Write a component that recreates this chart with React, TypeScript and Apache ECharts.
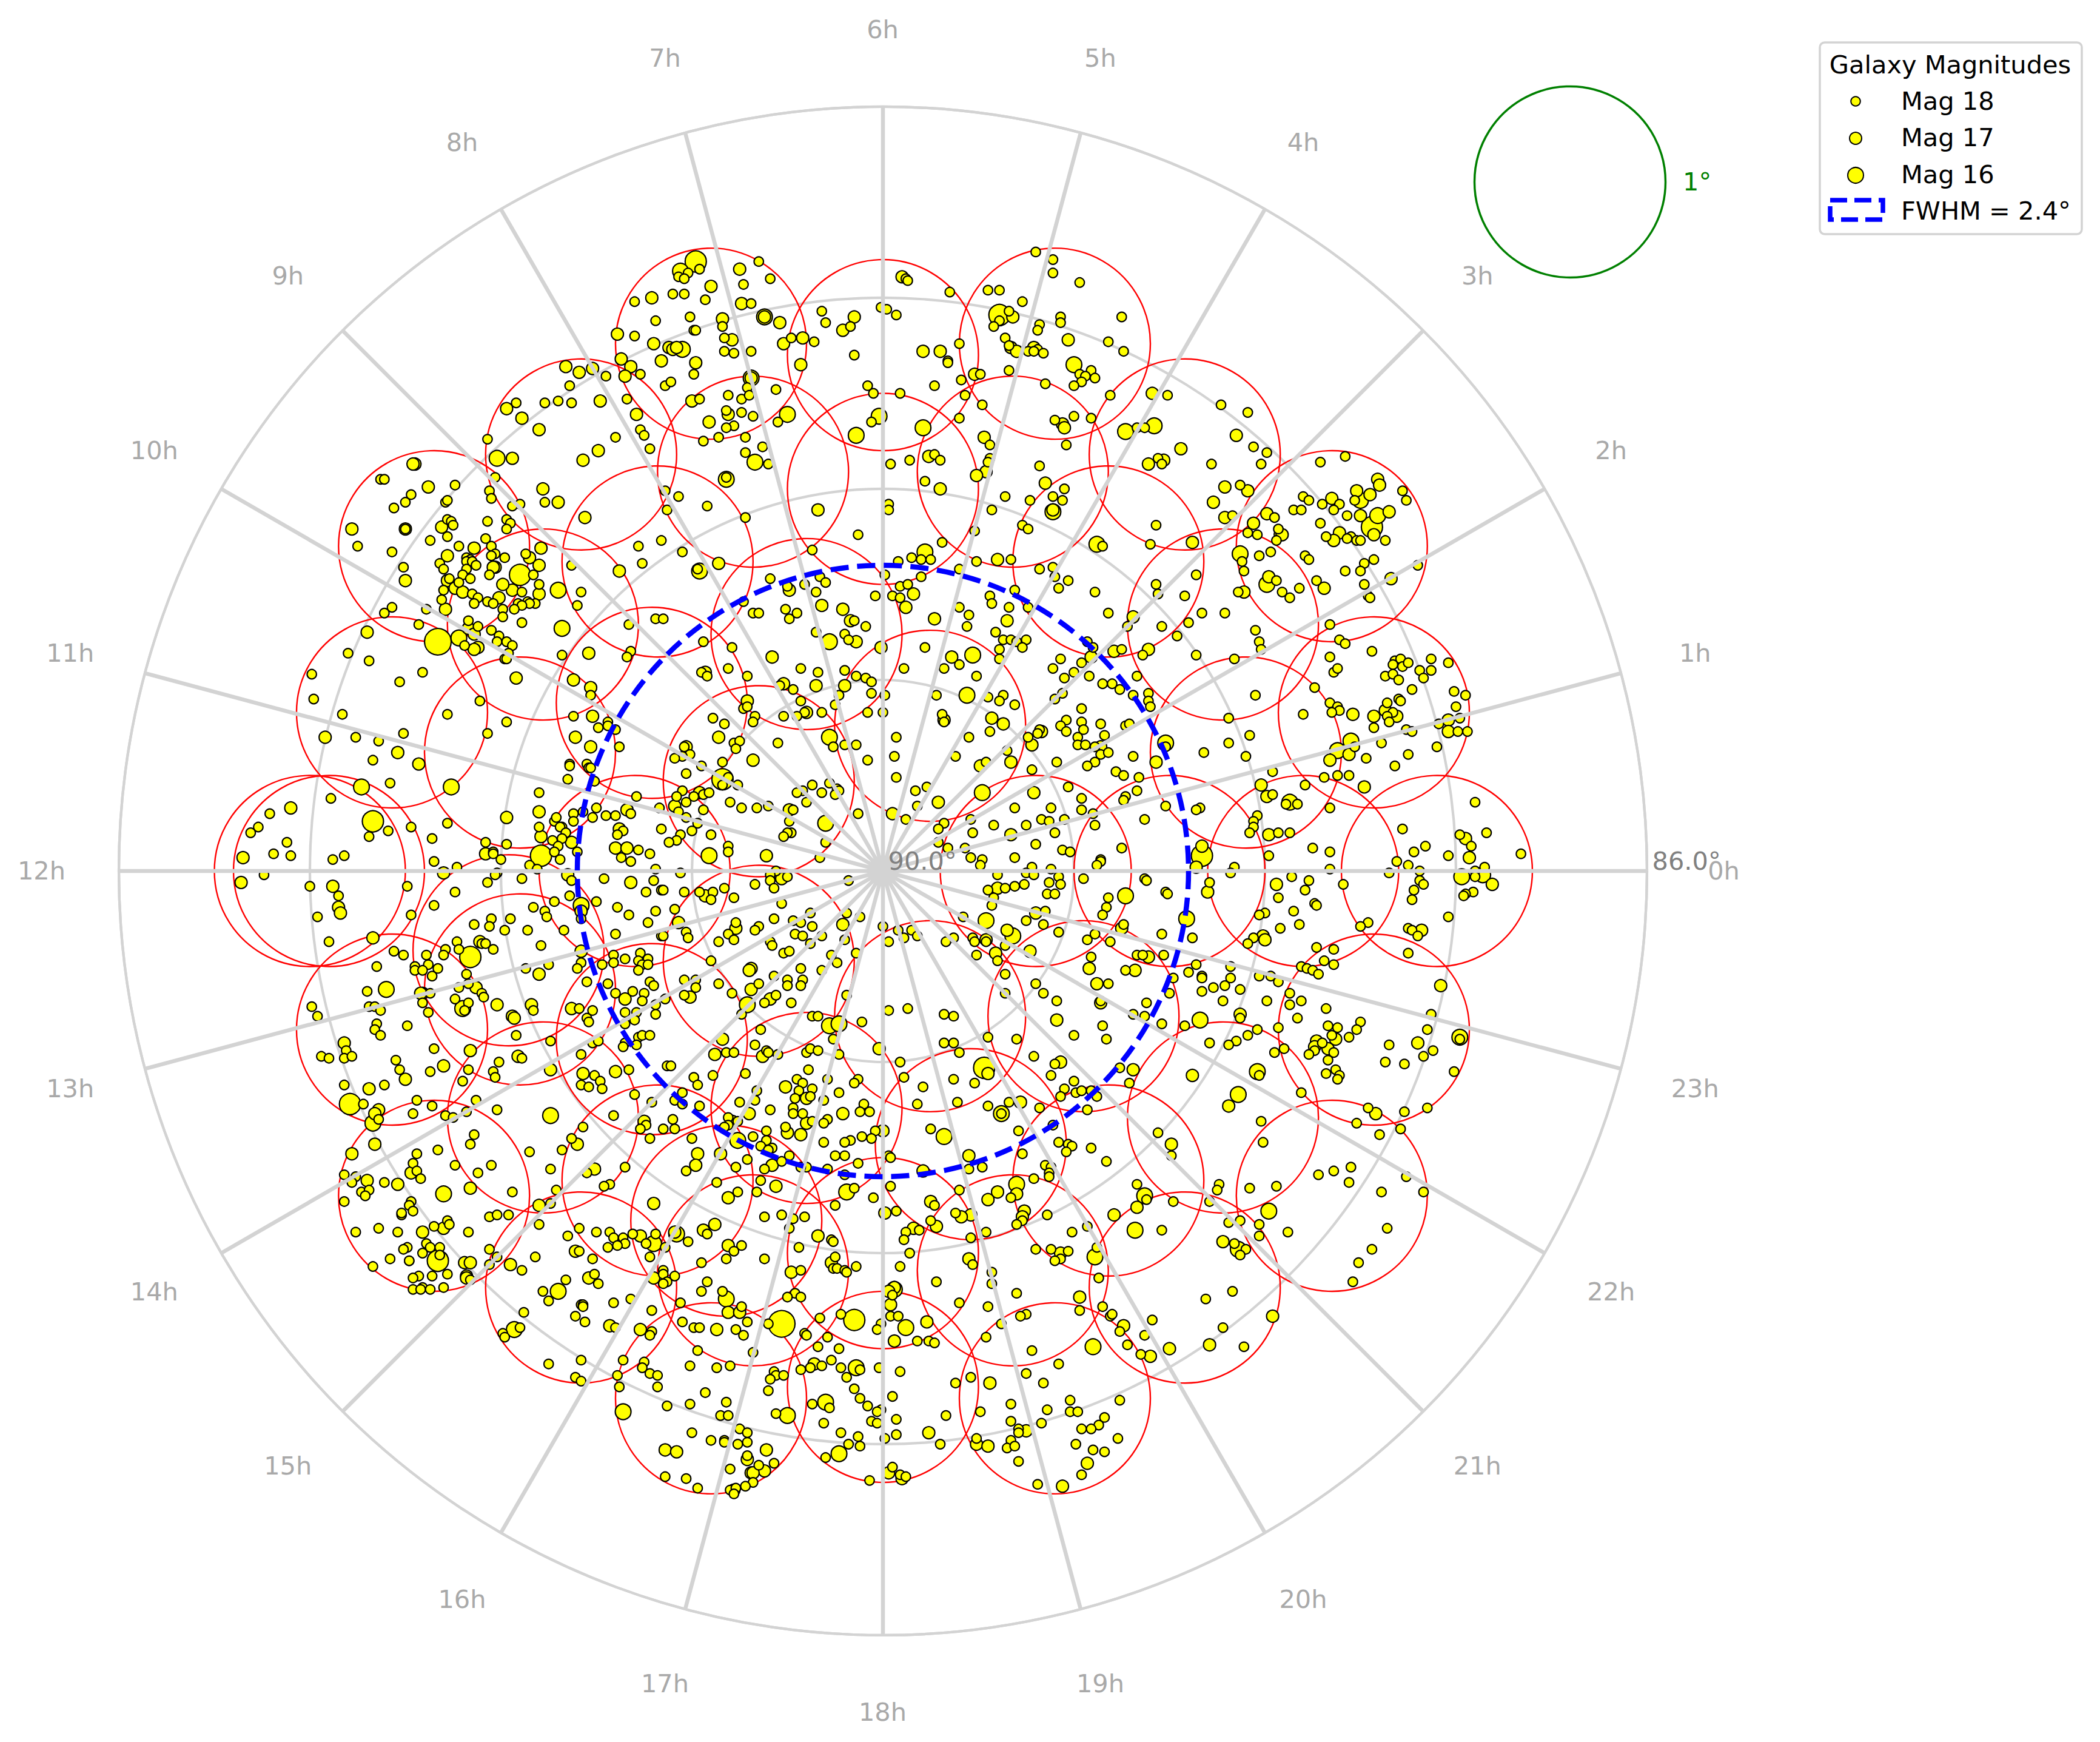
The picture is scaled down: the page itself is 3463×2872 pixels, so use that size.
import React, { useEffect, useRef } from "react";
import * as echarts from "echarts";

const hourLabels = ["0h","1h","2h","3h","4h","5h","6h","7h","8h","9h","10h","11h","12h","13h","14h","15h","16h","17h","18h","19h","20h","21h","22h","23h"];
const legendEntries = ["Mag 18", "Mag 17", "Mag 16"];
const radiusLabels = [90, 86];

// Observation fields: offset from the pole in degrees (east, north)
const fieldsOuter = [[2.90,0],[2.57,.83],[2.35,1.70],[1.58,2.18],[.90,2.76],[0,2.70],[-.90,2.76],[-1.58,2.18],[-2.35,1.70],[-2.57,.83],[-2.90,0],[-3.00,0],[-2.57,-.83],[-2.35,-1.70],[-1.58,-2.18],[-.90,-2.76],[0,-2.70],[.90,-2.76],[1.58,-2.18],[2.35,-1.70],[2.57,-.83]];
const fieldsMiddle = [[2.20,0],[1.78,1.29],[.68,2.09],[-.68,2.09],[-1.78,1.29],[-1.78,-1.29],[-.68,-2.09],[.68,-2.09],[1.78,-1.29],[1.90,.62],[1.18,1.62],[0,2.00],[-1.18,1.62],[-1.90,.62],[-1.90,-.62],[-1.18,-1.62],[0,-2.00],[1.18,-1.62],[-1.96,-.415],[-.82,-1.83]];
const fieldsInner = [[1.50,0],[-1.21,.88],[-1.21,-.88],[.46,-1.43],[-.40,1.24],[-1.30,0],[-.40,-1.24],[1.05,-.76],[.80,0],[.247,.76],[-.65,.47],[-.65,-.47],[.247,-.76]];

// Galaxies: [east offset deg, north offset deg, magnitude]
const galaxiesNW = [
[-1.30,2.98,18],[-1.21,3.00,17],[-1.19,2.88,18],[-1.39,2.81,17],[-1.30,2.80,18],[-1.20,2.76,17],[-1.37,2.68,17],[-1.16,2.67,17],[-1.32,2.64,17],[-1.35,2.59,17],[-1.27,2.60,18],[-1.66,2.64,17],[-1.59,2.61,17],[-1.52,2.63,17],[-1.45,2.59,18],[-1.64,2.54,18],[-1.92,2.45,18],[-1.97,2.42,17],[-1.77,2.45,18],[-1.70,2.46,18],[-1.63,2.45,18],[-1.48,2.46,17],[-1.34,2.47,18],[-1.89,2.37,17],[-1.29,2.39,17],[-1.80,2.31,17],[-1.27,2.31,18],[-1.25,2.28,18],[-1.40,2.27,18],[-2.07,2.26,18],[-1.22,2.21,18],[-1.49,2.20,17],[-1.57,2.15,17],[-2.02,2.16,16],[-1.94,2.16,17],[-2.03,2.06,18],[-1.78,2.00,17],[-1.70,1.93,17],[-1.77,1.93,18],[-2.06,1.99,18],[-2.05,1.95,18],[-1.90,1.92,18],[-1.94,1.91,18],[-1.56,1.85,17],[-1.97,1.84,18],[-1.95,1.82,18],[-1.97,1.79,18],[-2.07,1.83,18],[-2.08,1.74,18],[-1.28,1.70,18],[-1.26,1.61,18],[-1.16,1.73,18],[-1.38,1.57,17],[-1.79,1.69,17],[-1.87,1.66,18],[-1.85,1.64,17],[-1.80,1.60,17],[-1.63,1.60,18],[-1.83,1.55,18],[-1.90,1.55,15],[-1.80,1.50,18],[-1.70,1.47,16],[-1.58,1.46,18],[-1.60,1.39,18],[-1.80,1.45,17],[-1.82,1.40,18],[-1.86,1.41,18],[-1.85,1.40,18],[-1.89,1.46,18],[-1.94,1.47,17],[-1.99,1.50,17],[-1.91,1.40,18],[-1.89,1.39,18],[-1.93,1.37,18],[-1.99,1.37,18],[-1.99,1.33,18],[-1.89,1.30,18],[-1.68,1.27,16],[-1.33,1.29,18],[-1.19,1.32,18],[-1.54,1.14,17],[-1.68,1.13,18],[-1.32,1.15,18],[-1.34,1.12,18],
[-2.45,2.13,17],[-2.46,2.13,17],[-2.63,2.05,18],[-2.61,2.05,18],[-2.24,2.02,18],[-2.38,2.01,17],[-2.47,1.97,18],[-2.50,1.93,18],[-2.56,1.90,18],[-2.29,1.93,18],[-2.28,1.94,18],[-2.28,1.84,18],[-2.26,1.83,18],[-2.25,1.81,18],[-2.31,1.80,17],[-2.50,1.79,17],[-2.50,1.79,18],[-2.78,1.79,17],[-2.75,1.70,18],[-2.57,1.67,18],[-2.28,1.75,18],[-2.37,1.73,18],[-2.22,1.70,18],[-2.14,1.69,17],[-2.05,1.70,18],[-2.03,1.66,18],[-2.05,1.65,18],[-1.98,1.64,18],[-2.28,1.65,17],[-2.18,1.64,18],[-2.16,1.63,18],[-2.18,1.62,18],[-2.15,1.62,18],[-2.13,1.60,18],[-2.03,1.59,17],[-2.04,1.59,17],[-2.32,1.61,18],[-2.30,1.58,18],[-2.51,1.59,18],[-2.50,1.52,17],[-2.18,1.58,18],[-2.20,1.55,18],[-2.16,1.53,18],[-2.06,1.55,18],[-2.28,1.52,17],[-2.27,1.53,18],[-2.22,1.51,18],[-2.30,1.47,18],[-2.24,1.48,17],[-2.20,1.46,17],[-2.15,1.45,18],[-2.31,1.42,18],[-2.12,1.43,18],[-2.14,1.40,18],[-2.07,1.41,18],[-2.01,1.43,17],[-2.04,1.40,18],[-2.29,1.37,17],[-2.39,1.37,18],[-2.57,1.38,18],[-2.61,1.35,18],[-2.17,1.31,18],[-2.17,1.27,17],[-2.12,1.28,18],[-2.14,1.24,17],[-2.43,1.29,18],[-2.70,1.25,17],[-2.33,1.20,14],[-2.22,1.22,16],[-2.19,1.18,18],[-2.05,1.26,18],[-2.01,1.23,18],[-2.02,1.20,18],[-1.97,1.20,18],[-1.94,1.18,18],[-2.12,1.17,17],[-2.14,1.16,17],[-1.96,1.14,18],[-1.98,1.11,18],[-1.97,1.11,18],[-2.80,1.14,18],[-2.69,1.10,18],
];
const galaxiesN = [
[-.98,3.19,15],[-1.06,3.14,16],[-1.07,3.11,18],[-1.02,3.13,18],[-.96,3.15,18],[-1.04,3.10,18],[-.90,3.06,17],[-1.10,3.02,18],[-1.04,3.02,18],[-.93,2.99,18],[-.75,3.15,17],[-.65,3.19,18],[-.59,3.10,18],[-.73,3.07,18],[-.69,2.97,18],[-.74,2.97,17],[-1.01,2.90,18],[-.84,2.89,17],[-.84,2.85,18],[-.62,2.90,16],[-.62,2.90,17],[-.54,2.87,17],[-.99,2.83,18],[-.98,2.83,18],[-.79,2.78,17],[-.83,2.79,18],[-.42,2.79,17],[-.48,2.79,18],[-.52,2.76,17],[-.36,2.77,18],[-.32,2.93,18],[-.30,2.87,18],[-.15,2.90,17],[-.17,2.85,18],[-.21,2.83,17],[-.01,2.95,18],[.02,2.94,18],[.07,2.91,18],[-.15,2.70,18],[.10,3.11,17],[.12,3.10,18],[.13,3.09,18],[.35,3.03,18],[.80,3.24,18],[.89,3.20,18],[.89,3.13,18],[1.03,3.08,18],[.55,3.04,18],[.61,3.04,18],[.73,2.98,18],[.61,2.91,15],[.66,2.93,18],[.68,2.90,17],[.61,2.88,18],[.58,2.85,18],[.93,2.90,18],[.93,2.87,18],[.82,2.86,18],[.81,2.83,18],[.64,2.79,18],[.97,2.78,17],[1.18,2.77,18],[.66,2.75,18],[.67,2.74,17],[.70,2.72,17],[.79,2.74,17],[.81,2.73,18],[.76,2.72,18],[.79,2.72,18],[.84,2.71,18],[.40,2.76,18],[.21,2.72,17],[.30,2.72,17],[.34,2.67,18],[.34,2.66,18],[.66,2.62,18],[1.00,2.65,16],[1.03,2.60,18],[1.09,2.62,18],[1.06,2.59,18],[1.11,2.58,18],[1.04,2.56,18],[1.00,2.54,18],[.85,2.55,18],[.48,2.60,17],[.51,2.60,18],[.41,2.57,18],[.27,2.54,18],[.43,2.49,18],[.52,2.44,18],[.09,2.50,18],[-.08,2.54,18],[-.05,2.50,18],[1.19,2.49,18],[.40,2.37,18],[1.00,2.38,18],[1.09,2.37,18],[.90,2.36,18],[.94,2.34,17],[.95,2.32,17],[-.02,2.38,16],[-.06,2.35,18],[.21,2.32,16],[-.14,2.28,16],[.53,2.27,17],[.56,2.23,18],[.96,2.23,18],[.82,2.12,18],[.04,2.13,18],[.14,2.15,18],[.24,2.17,17],[.27,2.18,18],[.30,2.15,18],[.56,2.16,18],[.55,2.14,18],[.54,2.09,17],[.49,2.07,17],[.22,2.04,18],[.30,2.00,17],[.85,2.03,17],[.95,2.00,18],[.64,1.96,18],[.77,1.94,18],[.89,1.96,18],[.94,1.94,18],[.89,1.89,17],[.89,1.88,16],[.03,1.92,18],[.03,1.89,18],[.57,1.89,18],[.73,1.81,18],[.76,1.79,18],[.48,1.78,18],[-.13,1.76,18],[.31,1.72,18],[.22,1.67,16],[1.12,1.71,16],[1.15,1.70,18],[.15,1.64,18],[.20,1.63,18],[.25,1.63,18],[.08,1.62,18],[.60,1.63,17],[.67,1.63,18],[.49,1.62,18],[.40,1.58,18],[.82,1.58,18],[.89,1.59,18],[.90,1.54,18],[.97,1.52,18],[.92,1.48,18],[.20,1.54,18],[1.11,1.46,18],[.69,1.47,18],[.09,1.49,18],[.13,1.50,18],[.16,1.45,17],[.05,1.44,18],[.09,1.43,18],[.12,1.38,17],[.01,1.55,18],[-.04,1.44,18],[.56,1.44,18],[.57,1.40,18],[.66,1.38,18],[.76,1.38,18],[.40,1.38,18],[.45,1.34,18],[.44,1.28,18],[.27,1.32,17],[.65,1.31,17],[1.18,1.35,18],[.59,1.25,18],[.63,1.21,18],[.67,1.21,18],[.70,1.20,18],[.75,1.21,18],[.73,1.17,18],[.61,1.16,18],[1.07,1.20,18],[1.10,1.17,18],[1.09,1.12,17],[.93,1.11,18],[.22,1.17,18],[.36,1.12,17],[.47,1.13,16],[.61,1.11,18],[-.01,1.17,17],[-1.15,1.32,18],
[-1.12,2.74,17],[-1.10,2.73,17],[-1.08,2.74,17],[-1.05,2.73,16],[-.98,2.66,17],[-.99,2.60,18],[-.83,2.72,18],[-.78,2.71,18],[-.69,2.72,18],[-.43,2.65,17],[-1.14,2.54,18],[-1.11,2.56,18],[-.69,2.58,16],[-.69,2.58,17],[-.71,2.53,18],[-.56,2.52,18],[-.81,2.49,18],[-.74,2.47,18],[-.70,2.49,18],[-.96,2.47,18],[-1.00,2.46,17],[-.82,2.41,18],[-.81,2.39,17],[-.74,2.40,18],[-.68,2.38,18],[-.50,2.39,16],[-.55,2.35,18],[-.91,2.35,17],[-.78,2.33,18],[-.82,2.32,18],[-.86,2.27,18],[-.94,2.25,18],[-.72,2.27,18],[-.63,2.22,18],[-.72,2.19,18],[-.67,2.14,16],[-.60,2.13,18],[-.82,2.05,16],[-.82,2.06,18],[-1.07,1.96,18],[-1.14,1.99,18],[-.92,1.91,18],[-1.13,1.89,18],[-.72,1.85,18],[-.34,1.89,17],[-.37,1.68,18],[-1.05,1.67,18],[-.86,1.61,17],[-.96,1.57,16],[-.97,1.58,18],[-.59,1.53,18],[-.50,1.49,18],[-.49,1.47,17],[-.41,1.50,18],[-.33,1.54,18],[-.30,1.51,18],[-.35,1.46,18],[-.73,1.41,18],[-.68,1.35,18],[-.65,1.35,18],[-.51,1.37,18],[-.45,1.35,18],[-.49,1.32,18],[-.32,1.39,17],[-.21,1.37,17],[-.17,1.31,17],[-.15,1.31,18],[-.09,1.28,18],[-.35,1.25,18],[-.28,1.20,16],[-.20,1.24,18],[-.18,1.21,18],[-.14,1.20,17],[-.94,1.20,18],[-.79,1.17,18],[-.58,1.12,17],
];
const galaxiesNE = [
[1.25,2.90,18],[1.26,2.72,18],[1.41,2.50,17],[1.49,2.49,18],[1.77,2.44,18],[1.91,2.40,18],[1.27,2.30,16],[1.33,2.32,18],[1.37,2.32,18],[1.42,2.33,16],[1.85,2.28,17],[1.56,2.21,17],[1.94,2.22,18],[2.01,2.19,18],[1.44,2.16,18],[1.47,2.15,17],[1.39,2.13,17],[1.46,2.13,18],[1.72,2.13,18],[1.98,2.13,18],[2.29,2.14,18],[2.42,2.17,18],[1.79,2.01,17],[1.87,2.02,18],[1.91,1.99,17],[2.59,2.05,17],[2.60,2.02,17],[2.48,1.99,17],[2.55,1.97,17],[2.50,1.94,16],[2.47,1.94,18],[2.72,1.99,18],[2.74,1.94,18],[2.20,1.96,18],[2.23,1.94,18],[2.35,1.95,17],[2.39,1.92,18],[2.30,1.92,18],[2.36,1.89,18],[1.73,1.93,17],[2.15,1.89,18],[2.19,1.89,18],[2.65,1.88,17],[2.43,1.86,18],[2.50,1.86,17],[2.59,1.86,16],[2.56,1.80,15],[1.83,1.86,18],[1.79,1.85,17],[2.01,1.87,17],[2.05,1.85,18],[1.94,1.82,17],[2.29,1.82,18],[2.07,1.79,18],[2.08,1.76,17],[2.09,1.76,17],[2.39,1.77,17],[2.45,1.75,18],[2.32,1.75,18],[2.36,1.73,17],[2.43,1.74,18],[2.48,1.73,18],[2.50,1.73,18],[2.57,1.76,17],[2.63,1.73,18],[1.91,1.77,18],[1.96,1.76,18],[2.06,1.73,18],[1.62,1.72,17],[1.40,1.71,18],[1.43,1.81,18],[2.03,1.67,18],[1.97,1.65,18],[1.87,1.66,16],[1.88,1.62,18],[1.89,1.57,18],[2.21,1.65,18],[2.23,1.63,18],[2.52,1.61,18],[2.57,1.63,18],[2.50,1.57,18],[2.42,1.57,18],[2.80,1.60,18],[2.66,1.53,17],[1.64,1.55,18],[2.02,1.54,17],[2.06,1.52,18],[2.01,1.50,16],[2.27,1.52,18],[2.31,1.48,17],[2.52,1.50,18],[2.18,1.48,18],[2.09,1.46,18],[2.13,1.43,18],[1.89,1.46,17],[1.86,1.46,18],[1.43,1.50,18],[1.44,1.45,18],[1.58,1.44,18],[2.54,1.44,18],[2.55,1.43,18],[1.67,1.35,18],[1.79,1.35,18],[1.31,1.33,17],[1.28,1.28,18],[1.46,1.28,18],[1.60,1.30,18],[1.54,1.23,18],[1.95,1.26,18],[1.97,1.20,18],[1.98,1.16,18],[2.34,1.29,18],[2.39,1.21,18],[2.42,1.19,18],[2.56,1.15,18],[2.34,1.12,18],[2.68,1.10,18],[2.71,1.11,18],[2.87,1.11,18],[2.96,1.09,18],[1.25,1.16,18],[1.21,1.15,17],[1.39,1.16,17],[1.36,1.13,18],[1.64,1.13,18],[1.84,1.11,18],
];
const galaxiesW = [
[-2.99,1.03,18],[-2.98,.90,18],[-2.41,1.04,18],[-2.53,.99,18],[-1.92,1.01,17],[-1.62,1.00,17],[-1.53,.96,17],[-1.53,.92,18],[-2.11,.89,18],[-2.28,.82,18],[-2.83,.82,18],[-1.52,.81,17],[-1.62,.81,18],[-1.97,.78,18],[-1.44,.78,18],[-1.49,.75,18],[-1.44,.76,18],[-1.40,.74,18],[-2.07,.72,18],[-2.51,.72,18],[-2.92,.70,17],[-2.76,.70,18],[-2.64,.68,18],[-1.61,.70,17],[-1.53,.65,17],[-1.38,.65,18],[-2.54,.62,17],[-2.43,.56,17],[-2.67,.58,18],[-1.64,.56,18],[-1.64,.55,18],[-1.55,.56,18],[-1.54,.54,18],[-1.53,.54,18],[-1.65,.48,18],[-1.51,.47,18],[-2.58,.46,18],[-2.26,.44,16],[-2.73,.44,16],[-1.29,.39,18],[-1.80,.41,18],[-2.89,.38,18],[-3.10,.33,17],[-3.21,.30,18],[-1.80,.31,17],[-1.50,.33,18],[-1.62,.30,18],[-1.62,.26,18],[-1.57,.31,18],[-1.34,.32,17],[-1.32,.30,18],[-1.45,.29,18],[-1.40,.29,18],[-1.52,.28,18],[-1.17,.33,18],[-2.67,.26,15],[-1.97,.28,17],[-1.72,.26,18],[-1.71,.28,18],[-1.68,.23,18],[-1.69,.23,18],[-1.80,.23,18],[-2.28,.25,18],[-2.47,.23,18],[-2.59,.21,18],[-2.69,.18,18],[-3.27,.23,18],[-3.31,.20,18],[-1.66,.20,18],[-1.79,.18,17],[-1.38,.22,17],[-1.36,.21,18],[-1.39,.19,18],[-1.16,.22,18],[-2.36,.17,18],[-1.73,.16,18],[-1.68,.17,18],[-1.63,.15,17],[-3.12,.15,18],[-2.08,.15,18],[-1.97,.14,18],[-1.70,.13,18],[-1.40,.12,17],[-1.34,.12,17],[-1.28,.11,18],[-1.22,.09,18],[-3.19,.09,18],[-3.10,.08,18],[-3.35,.07,17],[-2.82,.08,18],[-2.88,.06,18],[-2.04,.10,18],[-2.04,.09,18],[-2.08,.09,17],[-1.79,.08,15],[-1.72,.10,18],[-1.60,.10,18],[-1.69,.06,18],[-1.37,.07,18],[-1.32,.05,18],[-2.00,.06,18],[-2.35,.05,18],[-2.23,.02,18],[-2.30,-.01,17],[-1.85,.03,18],[-1.81,.01,18],[-2.02,-.01,18],[-2.03,-.02,18],[-1.65,-.02,17],[-1.19,.01,18],[-3.24,-.02,18],[-3.36,-.06,17],[-1.89,-.04,18],[-1.63,-.05,18],[-1.46,-.04,18],[-1.32,-.06,17],[-1.20,-.05,18],[-2.07,-.06,18],[-3.00,-.08,18],[-2.88,-.08,17],[-2.49,-.08,18],[-2.24,-.11,18],[-1.24,-.11,18],[-1.16,-.10,18],[-2.85,-.13,18],[-1.64,-.13,18],[-1.50,-.16,18],[-1.72,-.16,18],[-1.58,-.18,16],[-1.58,-.21,17],[-2.85,-.19,17],[-2.84,-.22,17],[-2.35,-.18,18],[-1.83,-.19,18],[-1.39,-.19,18],[-1.19,-.21,18],[-1.77,-.21,18],[-1.76,-.24,18],[-1.33,-.23,18],[-1.58,-.25,18],[-2.47,-.23,18],[-2.96,-.24,18],[-1.23,-.27,18],[-1.95,-.25,18],[-2.05,-.25,18],[-2.14,-.28,18],[-2.06,-.29,18],[-1.98,-.31,18],[-1.86,-.31,18],[-1.67,-.31,18],[-1.40,-.33,18],[-2.90,-.37,18],[-2.67,-.35,17],[-2.23,-.37,18],[-2.11,-.37,17],[-2.10,-.38,18],[-2.08,-.38,18],[-2.04,-.41,18],[-1.79,-.39,18],[-1.16,-.34,18],[-2.22,-.41,18],[-2.56,-.42,18],[-2.51,-.44,18],[-2.29,-.41,18],[-2.30,-.44,18],[-2.16,-.45,15],[-2.39,-.44,18],[-1.58,-.42,17],[-1.41,-.44,18],[-1.35,-.46,18],[-1.27,-.43,18],[-1.28,-.47,18],[-1.23,-.46,18],[-1.26,-.49,18],[-1.23,-.49,18],[-1.28,-.52,18],[-1.41,-.48,18],[-1.47,-.49,18],[-1.58,-.48,18],[-1.60,-.51,18],[-2.65,-.50,18],[-2.38,-.49,18],[-2.45,-.50,18],[-2.45,-.52,18],[-2.33,-.51,18],[-2.41,-.52,18],[-1.87,-.51,18],[-1.75,-.49,18],[-1.80,-.54,17],[-2.36,-.55,18],[-2.18,-.54,18],[-2.17,-.59,18],[-2.60,-.62,16],[-2.13,-.61,17],[-2.22,-.61,18],[-1.55,-.58,18],[-1.44,-.59,18],[-1.22,-.58,18],[-1.20,-.60,18],[-2.70,-.63,18],[-2.41,-.64,17],[-2.42,-.64,17],[-2.37,-.64,18],[-2.10,-.64,18],[-1.40,-.64,18],[-1.31,-.63,18],[-1.25,-.64,18],[-1.35,-.67,17],[-1.26,-.68,18],[-2.09,-.66,18],[-2.24,-.67,18],[-2.02,-.70,17],[-1.84,-.70,17],[-1.83,-.73,18],[-2.17,-.69,18],[-2.20,-.72,16],[-2.19,-.73,18],[-2.99,-.71,18],[-2.69,-.71,18],[-2.66,-.71,18],[-2.63,-.73,18],[-2.41,-.69,18],[-2.38,-.74,18],[-1.63,-.72,17],[-1.59,-.72,18],[-1.52,-.73,18],[-1.19,-.70,18],[-1.35,-.74,18],[-1.29,-.74,18],[-1.19,-.75,18],[-2.96,-.76,18],[-1.94,-.76,17],[-1.93,-.77,17],[-1.55,-.77,18],[-1.54,-.79,18],[-1.35,-.80,18],[-1.30,-.78,18],[-2.65,-.80,18],[-2.49,-.81,18],[-2.66,-.83,18],[-2.63,-.86,18],[-1.92,-.86,18],[-1.74,-.89,18],[-1.28,-.87,18],[-1.26,-.86,18],[-1.22,-.86,18],[-2.82,-.90,17],[-2.81,-.94,18],[-1.52,-.90,18],[-1.49,-.89,18],[-1.35,-.90,18],[-1.36,-.92,18],[-1.29,-.91,18],[-2.35,-.93,18],[-2.16,-.94,17],[-2.94,-.97,18],[-2.90,-.98,18],[-2.82,-.98,18],[-2.78,-.97,18],[-1.91,-.97,17],[-1.89,-.98,18],[-1.58,-.96,18],[-2.55,-.99,18],[-2.01,-1.00,18],[-2.30,-1.02,17],[-2.53,-1.04,18],[-1.74,-1.04,17],[-1.57,-1.06,17],[-1.51,-1.07,18],[-1.40,-1.05,17],[-1.33,-1.04,18],[-2.37,-1.05,18],[-2.17,-1.04,18],[-2.04,-1.05,18],[-2.03,-1.08,18],[-2.50,-1.09,17],
];
const galaxiesCentre = [
[-.93,1.04,17],[-.95,1.04,18],[-.92,1.02,18],[-.81,1.06,18],[-.71,1.02,18],[-.43,1.06,18],[-.34,1.04,18],[-.20,1.05,18],[-.14,1.02,18],[-.09,1.01,18],[-.06,.99,18],[.11,1.06,18],[.32,1.06,18],[.40,1.08,18],[.49,1.02,18],[.89,1.06,18],[.95,1.01,18],[1.00,1.04,18],[1.08,1.02,18],[1.04,1.09,18],[1.15,.98,18],[-.52,.98,17],[-.54,.97,18],[-.47,.95,18],[-.35,.97,17],[-.20,.97,17],[.44,.92,16],[.28,.92,18],[.55,.91,18],[.63,.92,18],[.61,.89,18],[.69,.87,18],[-.06,.93,18],[.01,.92,18],[-.23,.92,18],[.94,.93,18],[.90,.90,18],[-.71,.89,17],[-.43,.89,18],[-.25,.87,18],[-.73,.85,18],[-.71,.86,18],[1.04,.85,18],[-.52,.81,18],[-.41,.83,18],[-.40,.83,17],[-.45,.81,18],[-.32,.83,18],[-.08,.83,18],[0,.83,18],[.31,.82,18],[.32,.79,17],[.32,.78,18],[.57,.80,17],[-.89,.80,18],[-.67,.81,18],[-.68,.78,18],[-.83,.77,18],[.63,.77,17],[.96,.79,18],[1.04,.78,18],[1.14,.77,18],[.93,.76,18],[.56,.73,18],[.96,.73,18],[1.05,.74,18],[1.16,.71,18],[.83,.73,17],[.82,.74,18],[.81,.72,18],[.07,.70,18],[.45,.70,18],[.76,.70,18],[1.02,.70,18],[.78,.66,17],[1.02,.66,18],[1.06,.66,18],[-.28,.70,16],[-.86,.70,17],[-.78,.67,18],[-.75,.68,18],[-.77,.64,18],[-.55,.67,18],[-.26,.65,18],[-.20,.66,18],[-.14,.66,18],[1.14,.65,17],[1.11,.65,18],[1.14,.61,18],[1.18,.62,18],[-1.03,.65,17],[-1.04,.65,18],[-1.01,.61,18],[-1.05,.60,18],[-1.09,.59,18],[-.68,.58,17],[-.08,.58,18],[.06,.60,18],[.65,.63,18],[.38,.60,18],[.67,.57,17],[.54,.57,18],[.51,.55,17],[.91,.57,18],[1.11,.57,18],[1.07,.55,18],[-.84,.57,18],[-.95,.55,18],[-1.03,.51,18],[.78,.53,18],[.07,.49,18],[-.84,.48,15],[-.81,.49,18],[-.84,.45,18],[-.76,.45,18],[.97,.44,18],[-1.05,.42,18],[-.96,.41,17],[-.94,.40,18],[-.91,.41,18],[-.99,.39,18],[-1.08,.39,18],[-.37,.45,18],[-.28,.46,18],[-.24,.43,18],[-.23,.42,18],[-.25,.40,18],[-.32,.41,18],[-.42,.42,18],[-.45,.41,18],[.17,.42,18],[.23,.44,18],[.52,.41,16],[.79,.41,17],[1.04,.38,18],[-.40,.36,18],[-.80,.36,18],[-1.03,.36,18],[-1.09,.34,17],[-1.07,.31,18],[.29,.36,17],[.69,.33,18],[.18,.34,18],[-.74,.33,18],[-.66,.33,18],[-.60,.34,18],[-.49,.32,17],[-.47,.32,18],[-.94,.32,18],[.88,.33,18],[1.04,.32,18],[1.10,.30,18],[.05,.30,17],[.12,.27,18],[-.13,.30,18],[.46,.27,18],[-1.03,.28,18],[-.97,.25,18],[-.49,.26,18],[-.30,.25,16],[.83,.27,18],[.87,.26,18],[.95,.27,18],[.32,.25,18],[.29,.22,18],[.58,.24,18],[.75,.24,18],[1.11,.24,18],[.47,.20,18],[.67,.19,17],[.90,.20,18],[-.48,.20,18],[-.50,.20,18],[-.52,.18,18],[-1.00,.21,18],[-.90,.19,18],[-1.06,.19,18],[-1.08,.16,18],[-1.12,.15,18],[-.30,.15,18],[.29,.15,18],[.80,.14,18],[.34,.12,18],[.43,.12,18],[-.81,.13,18],[-.81,.10,18],[-.91,.08,16],[-.61,.08,17],[.94,.11,18],[.98,.10,18],[1.14,.06,18],[1.14,.05,18],[1.12,.03,18],[-.33,.07,18],[.46,.07,18],[.52,.06,18],[.69,.07,18],[.51,.03,18],[.78,.02,18],[.88,.01,18],[-1.06,-.01,18],[-.56,0,18],[-.59,-.02,18],[-.53,-.04,17],[-.50,-.03,18],[-.59,-.05,18],[.75,-.01,18],[.79,-.02,18],[.60,-.02,18],[.92,-.03,18],[1.05,-.04,18],[-.67,-.07,18],[-.57,-.09,18],[-.18,-.05,18],[.87,-.06,18],[.93,-.07,18],[.55,-.10,18],[.60,-.09,17],[.64,-.09,18],[.69,-.08,18],[.74,-.07,18],[-1.15,-.10,18],[-1.04,-.11,18],[-.96,-.11,18],[-.89,-.11,18],[-.93,-.13,17],[-.90,-.15,18],[-.83,-.09,18],[-.78,-.14,18],[.86,-.12,18],[.90,-.12,18],[.58,-.14,18],[1.18,-.14,18],[-.53,-.17,18],[.57,-.18,18],[1.17,-.19,18],[-1.09,-.20,18],[-.38,-.22,18],[-.19,-.22,18],[1.15,-.23,18],[.80,-.22,17],[.85,-.21,18],[.42,-.24,18],[-.57,-.25,18],[-.12,-.24,18],[.54,-.26,16],[.75,-.26,18],[-.47,-.26,18],[-.43,-.27,18],[-.21,-.28,17],[-1.07,-.27,17],[-.77,-.27,18],[0,-.29,18],[.84,-.28,18],[-.65,-.29,18],[-.77,-.30,17],[-.67,-.31,18],[-.37,-.29,18],[.08,-.31,18],[.15,-.31,18],[.65,-.31,17],[.68,-.34,16],[.92,-.32,18],[-1.03,-.32,18],[-1.02,-.35,18],[-1.15,-.34,18],[-.81,-.33,18],[-.32,-.34,18],[-.46,-.33,18],[-.42,-.34,18],[-.78,-.36,18],[-.86,-.37,18],[-.20,-.36,18],[.11,-.35,18],[.18,-.34,18],[.03,-.37,18],[.37,-.35,18],[.33,-.37,18],[.47,-.35,18],[.48,-.37,18],[.54,-.36,17],[.54,-.37,18],[1.11,-.33,18],[1.07,-.36,18],[1.19,-.37,18],[-.59,-.37,18],[-.58,-.39,18],[-.38,-.38,18],[.64,-.39,18],[.59,-.43,17],[.77,-.42,17],[-.52,-.43,18],[-.49,-.42,18],[-.27,-.44,18],[-.14,-.43,18],[.49,-.44,18],[1.09,-.45,18],[.60,-.47,18],[-.90,-.47,18],[-.24,-.48,18],[1.08,-.51,17],[-.43,-.51,18],[-.32,-.52,18],[-.69,-.51,17],[-.70,-.52,17],[.64,-.54,18],[-1.04,-.57,18],[-.98,-.57,18],[-.57,-.55,18],[-.50,-.57,18],[-.42,-.57,18],[-.86,-.59,18],[-.98,-.61,18],[-.65,-.59,18],[-.69,-.62,17],[-.50,-.60,18],[-.43,-.60,18],[1.12,-.59,17],[1.18,-.59,18],[.80,-.59,18],[-.79,-.64,18],[.64,-.64,18],[.84,-.64,18],[1.14,-.69,17],[1.14,-.68,18],[.91,-.68,18],[-1.04,-.65,18],[-1.01,-.66,17],[-1.14,-.67,18],[-.56,-.65,18],[-.59,-.67,17],[-.62,-.69,18],[-.48,-.69,18],[-.71,-.70,16],[-.74,-.75,18],[-.19,-.65,18],[-.37,-.76,18],[-.34,-.76,18],[.03,-.73,18],[.13,-.72,18],[.91,-.78,17],[.32,-.75,18],[.37,-.76,18],[-.28,-.81,16],[-.23,-.80,16],[-.11,-.79,18],[-.64,-.83,18],[1.15,-.81,18],[1.00,-.86,18],[.55,-.87,18],[.70,-.88,18],[1.17,-.88,18],[-.84,-.88,17],[-.26,-.88,18],[-.67,-.91,18],[.32,-.90,18],[.37,-.90,18],[-.88,-.96,17],[-.82,-.95,18],[-.78,-.95,18],[-.61,-.94,18],[-.63,-.97,17],[-.60,-.95,18],[-.55,-.96,18],[-.40,-.95,18],[-.38,-.93,18],[-.34,-.94,18],[-.23,-.96,18],[-.02,-.93,17],[.40,-.95,18],[.79,-.97,18],[.93,-1.00,17],[.90,-1.01,18],[-1.13,-1.02,18],[-1.11,-1.02,18],[.09,-1.00,18],[.53,-1.03,15],[.55,-1.06,17],[-.39,-1.04,18],[-.72,-1.06,18],[-.89,-1.07,18],[-.99,-1.08,18],[.88,-1.07,18],[.11,-1.08,18],[.37,-1.09,18],[-.45,-1.09,18],[-.29,-1.09,18],[-.13,-1.09,18],
];
const galaxiesE = [
[2.36,1.04,18],[2.38,1.06,18],[2.67,1.08,18],[2.72,1.07,18],[2.75,1.09,18],[2.81,1.05,18],[2.87,1.05,18],[2.63,1.02,18],[2.67,1.03,18],[2.70,1.00,18],[2.83,1.01,18],[1.33,1.02,18],[1.20,.98,18],[1.24,.95,18],[1.31,.92,18],[1.39,.93,18],[1.39,.89,18],[1.40,.86,18],[1.95,.92,18],[2.26,.96,18],[2.77,.95,18],[2.99,.94,18],[3.05,.92,18],[2.70,.90,18],[2.71,.89,18],[2.64,.88,18],[2.34,.88,18],[2.38,.86,18],[2.39,.84,18],[3.00,.86,18],[2.63,.84,17],[2.67,.83,18],[2.69,.81,17],[2.35,.83,18],[2.46,.82,17],[2.20,.82,18],[2.57,.81,17],[2.64,.81,18],[2.65,.78,18],[1.81,.80,18],[2.96,.79,17],[3.02,.80,18],[2.91,.77,18],[1.27,.76,18],[1.29,.77,18],[2.57,.75,18],[2.74,.74,18],[2.77,.73,18],[2.96,.73,17],[3.01,.73,18],[3.06,.73,18],[1.92,.71,18],[2.45,.68,16],[2.47,.65,18],[2.38,.63,16],[2.44,.61,17],[2.61,.67,18],[1.81,.67,18],[1.48,.67,16],[1.48,.65,18],[2.90,.65,18],[1.68,.62,18],[1.31,.60,18],[2.75,.61,18],[1.90,.60,18],[2.53,.59,18],[2.34,.58,17],[1.43,.57,17],[2.68,.55,18],[1.22,.52,18],[1.26,.50,18],[1.34,.49,18],[2.04,.52,18],[2.31,.49,18],[2.38,.50,18],[2.44,.50,18],[2.21,.45,18],[1.98,.45,17],[2.52,.44,17],[1.33,.42,18],[2.01,.39,17],[2.04,.40,18],[2.13,.36,16],[2.17,.35,18],[2.11,.35,18],[1.27,.39,18],[1.26,.37,18],[3.10,.36,18],[1.48,.34,18],[1.66,.33,18],[1.64,.32,18],[2.34,.33,18],[1.96,.29,18],[1.94,.26,18],[1.94,.23,18],[1.37,.27,18],[2.72,.22,18],[1.92,.20,18],[2.02,.19,17],[2.07,.20,18],[2.13,.20,18],[3.02,.19,18],[3.05,.17,17],[3.08,.13,18],[3.16,.20,18],[2.84,.13,18],[1.25,.12,18],[1.67,.13,17],[2.25,.12,18],[2.78,.10,18],[2.34,.10,18],[2.96,.08,18],[3.34,.09,18],[2.02,.08,18],[1.67,.08,15],[3.07,.07,17],[1.64,.02,17],[1.84,.02,18],[1.82,-.01,18],[2.69,.05,18],[2.75,.03,18],[2.34,.01,18],[2.81,0,18],[2.65,-.01,18],[3.15,.02,18],[3.03,-.03,16],[3.10,0,18],[3.14,-.02,16],[3.10,-.03,18],[2.81,-.05,18],[2.83,-.07,18],[3.19,-.07,17],[2.14,-.03,18],[2.23,-.05,18],[1.37,-.04,18],[1.38,-.05,18],[2.41,-.07,18],[1.71,-.06,18],[2.06,-.07,17],[1.70,-.11,17],[1.27,-.13,16],[1.48,-.11,18],[1.49,-.12,18],[2.21,-.10,18],[2.07,-.14,18],[2.78,-.10,18],[2.77,-.15,18],[3.09,-.11,18],[3.05,-.12,18],[3.04,-.13,18],[2.26,-.17,18],[2.27,-.18,18],[2.00,-.22,18],[1.97,-.23,18],[2.15,-.21,18],[1.59,-.25,16],[2.96,-.24,18],[1.26,-.28,18],[1.25,-.30,17],[2.18,-.28,18],[2.54,-.27,18],[2.50,-.29,18],[2.08,-.30,18],[2.75,-.30,18],[2.77,-.31,18],[2.82,-.31,17],[2.80,-.34,18],[1.46,-.33,18],[1.62,-.35,18],[1.99,-.34,17],[2.00,-.36,17],[1.94,-.35,18],[1.91,-.38,18],[2.27,-.40,18],[2.36,-.41,18],[2.75,-.43,18],[1.47,-.44,18],[1.33,-.44,18],[1.36,-.44,18],[1.39,-.45,17],[2.31,-.47,18],[2.36,-.49,18],[2.19,-.50,18],[1.64,-.49,18],[1.82,-.50,18],[1.27,-.52,18],[1.32,-.52,17],[2.22,-.51,18],[2.25,-.52,18],[2.28,-.54,18],[1.60,-.53,18],[1.97,-.55,18],[2.03,-.55,18],[2.07,-.58,18],[1.67,-.55,18],[1.67,-.56,18],[1.52,-.56,18],[1.82,-.56,18],[1.79,-.60,18],[1.73,-.61,18],[1.87,-.62,18],[1.67,-.63,18],[1.50,-.64,18],[2.92,-.60,17],[2.13,-.64,18],[2.19,-.68,18],[2.01,-.68,18],[1.38,-.69,18],[1.78,-.68,18],[2.13,-.70,18],[2.32,-.72,18],[1.31,-.75,18],[1.37,-.76,18],[1.87,-.75,17],[1.87,-.77,18],[2.87,-.75,18],[1.66,-.78,16],[2.17,-.77,18],[1.46,-.80,18],[1.58,-.81,18],[2.50,-.79,18],[2.48,-.83,18],[2.33,-.81,18],[2.38,-.82,18],[2.07,-.82,18],[1.96,-.83,18],[2.85,-.83,18],[2.35,-.86,18],[2.37,-.88,17],[2.44,-.87,18],[1.91,-.86,18],[1.71,-.90,18],[1.85,-.89,18],[1.81,-.91,18],[2.10,-.93,18],[2.80,-.90,17],[3.02,-.87,16],[3.02,-.88,18],[2.27,-.89,17],[2.30,-.90,18],[2.26,-.92,17],[2.26,-.94,18],[2.65,-.91,18],[2.88,-.94,18],[2.33,-.93,17],[2.36,-.95,18],[2.05,-.95,18],[2.23,-.96,18],[2.83,-.97,18],[2.33,-.99,18],[2.63,-1.00,18],[2.73,-1.01,18],[2.37,-1.04,18],[2.32,-1.06,18],[2.39,-1.07,18],[2.38,-1.09,18],[2.99,-1.05,18],[1.24,-1.03,18],[1.31,-1.04,17],[1.62,-1.07,17],[1.96,-1.05,16],[1.97,-1.07,18],
];
const galaxiesSW = [
[-2.82,-1.12,18],[-2.69,-1.14,17],[-2.61,-1.12,18],[-2.20,-1.10,18],[-1.58,-1.12,18],[-1.54,-1.13,18],[-1.48,-1.10,18],[-1.47,-1.14,18],[-2.79,-1.22,15],[-2.72,-1.22,18],[-2.44,-1.20,18],[-2.13,-1.20,18],[-2.36,-1.23,18],[-2.02,-1.25,18],[-2.64,-1.25,17],[-2.46,-1.27,18],[-2.18,-1.26,18],[-2.66,-1.27,17],[-1.74,-1.28,16],[-1.30,-1.17,18],[-1.21,-1.21,18],[-1.41,-1.28,18],[-2.29,-1.28,18],[-2.25,-1.29,18],[-2.64,-1.30,18],[-2.67,-1.32,16],[-1.25,-1.31,17],[-1.24,-1.33,18],[-1.27,-1.35,18],[-1.57,-1.34,18],[-2.14,-1.38,18],[-1.63,-1.40,18],[-1.22,-1.40,18],[-2.66,-1.43,17],[-2.16,-1.43,18],[-1.60,-1.43,17],[-2.33,-1.46,18],[-1.85,-1.47,18],[-1.68,-1.46,18],[-2.78,-1.48,17],[-2.44,-1.48,18],[-2.46,-1.53,18],[-2.24,-1.54,18],[-2.05,-1.54,18],[-1.74,-1.56,18],[-1.51,-1.56,17],[-1.35,-1.55,18],[-1.55,-1.58,18],[-2.12,-1.58,18],[-2.44,-1.57,18],[-2.47,-1.58,17],[-2.82,-1.59,18],[-2.42,-1.61,18],[-2.76,-1.60,18],[-2.70,-1.62,17],[-2.78,-1.63,18],[-2.61,-1.63,18],[-2.54,-1.64,17],[-1.43,-1.64,18],[-1.46,-1.65,18],[-2.30,-1.69,16],[-2.16,-1.66,17],[-1.71,-1.67,18],[-1.94,-1.68,18],[-2.73,-1.68,18],[-2.69,-1.67,18],[-2.71,-1.70,18],[-2.82,-1.73,18],[-2.47,-1.73,18],[-2.48,-1.75,18],[-2.46,-1.78,18],[-1.80,-1.75,17],[-1.74,-1.74,18],[-1.20,-1.74,17],[-2.52,-1.80,18],[-2.52,-1.79,18],[-2.06,-1.81,18],[-2.02,-1.80,18],[-1.96,-1.80,18],[-2.28,-1.83,18],[-2.27,-1.85,18],[-2.30,-1.87,17],[-2.35,-1.86,18],[-1.80,-1.85,18],[-2.76,-1.89,18],[-2.64,-1.87,18],[-2.54,-1.89,18],[-2.41,-1.89,17],[-2.17,-1.89,18],[-1.59,-1.87,18],[-1.50,-1.89,18],[-1.43,-1.89,18],[-1.41,-1.92,18],[-1.31,-1.90,18],[-1.27,-1.91,17],[-1.19,-1.90,18],[-1.20,-1.95,16],[-1.65,-1.91,18],[-1.36,-1.92,18],[-1.35,-1.95,18],[-1.39,-1.96,18],[-1.44,-1.97,18],[-1.24,-1.95,18],[-2.39,-1.95,18],[-2.37,-1.97,18],[-2.49,-1.97,18],[-2.51,-1.98,18],[-2.32,-1.97,18],[-2.06,-1.98,18],[-1.61,-1.99,17],[-1.59,-1.99,18],[-2.41,-2.00,18],[-1.82,-2.02,18],[-1.52,-2.03,18],[-2.02,-2.02,18],[-1.22,-2.02,18],[-2.33,-2.04,15],[-2.32,-2.01,18],[-2.58,-2.03,18],[-2.48,-2.04,18],[-2.48,-2.04,18],[-2.19,-2.05,17],[-2.16,-2.05,17],[-2.67,-2.07,18],[-2.06,-2.06,18],[-1.95,-2.06,17],[-1.89,-2.09,18],[-2.28,-2.11,18],[-2.36,-2.12,18],[-2.43,-2.12,18],[-2.46,-2.13,18],[-2.18,-2.12,17],[-2.18,-2.13,17],[-2.16,-2.14,18],[-1.51,-2.11,18],[-1.54,-2.13,17],[-1.49,-2.16,18],[-1.66,-2.14,18],[-1.70,-2.20,16],[-1.20,-2.13,17],[-1.78,-2.20,18],[-2.46,-2.19,18],[-2.41,-2.18,18],[-2.42,-2.19,18],[-2.37,-2.19,18],[-2.30,-2.18,18],[-1.32,-2.24,18],[-1.75,-2.25,18],[-1.41,-2.26,18],[-1.58,-2.27,18],[-1.57,-2.27,18],[-1.57,-2.28,18],[-1.21,-2.30,18],[-1.88,-2.31,18],[-1.61,-2.33,18],[-1.56,-2.36,18],[-1.43,-2.38,17],[-1.40,-2.39,18],[-1.27,-2.40,17],[-1.21,-2.41,18],[-1.22,-2.43,18],[-1.93,-2.40,16],[-1.90,-2.39,18],[-1.99,-2.42,18],[-1.98,-2.44,18],[-1.36,-2.56,18],[-1.58,-2.56,18],[-1.25,-2.57,18],[-1.26,-2.60,18],[-1.75,-2.58,18],[-1.22,-2.63,18],[-1.18,-2.64,18],[-1.39,-2.64,18],[-1.61,-2.65,18],[-1.58,-2.67,18],[-1.38,-2.70,18],[-1.18,-2.70,18],[-1.36,-2.83,16],
];
const galaxiesS = [
[-.97,-1.12,18],[-.51,-1.13,17],[-.42,-1.11,18],[-.44,-1.15,18],[-.37,-1.14,18],[-.38,-1.18,18],[-.40,-1.19,17],[-.46,-1.19,18],[-.23,-1.16,18],[-.15,-1.11,18],[.21,-1.13,18],[.48,-1.11,18],[1.00,-1.10,18],[.95,-1.14,18],[.93,-1.18,18],[1.01,-1.16,18],[1.04,-1.15,18],[1.09,-1.15,18],[1.12,-1.18,18],[-1.05,-1.16,18],[-1.09,-1.20,18],[-1.05,-1.22,18],[-.96,-1.23,18],[-.66,-1.15,18],[-.67,-1.20,18],[-.75,-1.21,18],[-.59,-1.25,18],[-.70,-1.27,17],[-.10,-1.22,18],[-.12,-1.26,18],[-.07,-1.26,18],[-.31,-1.20,18],[-.47,-1.24,18],[-.47,-1.27,18],[-.42,-1.27,18],[-.21,-1.27,17],[.18,-1.22,18],[.39,-1.21,18],[.55,-1.23,18],[.66,-1.21,18],[.72,-1.21,17],[.62,-1.27,16],[.62,-1.27,18],[.82,-1.24,18],[1.07,-1.25,18],[-1.10,-1.30,18],[-.81,-1.29,18],[-.79,-1.31,17],[-.81,-1.33,18],[-.76,-1.31,18],[-.40,-1.32,17],[-.37,-1.31,18],[-.29,-1.30,18],[-.31,-1.32,18],[-1.15,-1.35,18],[-1.09,-1.35,18],[-.83,-1.34,18],[-.61,-1.36,18],[-.51,-1.34,18],[-.50,-1.37,17],[-.43,-1.38,17],[-.04,-1.36,18],[0,-1.36,17],[.25,-1.35,18],[.89,-1.33,18],[.71,-1.36,18],[.32,-1.39,16],[-1.00,-1.40,18],[-.68,-1.39,18],[-.76,-1.41,16],[-.61,-1.41,18],[-.58,-1.45,18],[-.17,-1.41,18],[-.20,-1.42,18],[-.11,-1.39,18],[-.06,-1.40,18],[-.31,-1.42,18],[-.64,-1.44,18],[-.60,-1.46,18],[.92,-1.42,18],[.97,-1.43,18],[.99,-1.44,18],[.96,-1.47,18],[1.09,-1.45,18],[-.97,-1.48,17],[-.85,-1.48,17],[-.25,-1.49,18],[-.20,-1.49,18],[-.49,-1.49,18],[.45,-1.49,17],[.73,-1.48,18],[.03,-1.49,18],[.04,-1.50,18],[-.71,-1.51,18],[-.53,-1.52,18],[1.17,-1.52,18],[-.98,-1.54,17],[-.58,-1.54,17],[-.13,-1.53,18],[.85,-1.54,18],[.88,-1.55,18],[-.77,-1.55,18],[-.40,-1.55,18],[-.43,-1.55,18],[-.29,-1.56,18],[.52,-1.55,18],[.45,-1.56,18],[.21,-1.57,17],[-1.03,-1.57,18],[-.62,-1.56,18],[-.20,-1.59,18],[.87,-1.58,18],[.87,-1.60,18],[-.64,-1.62,18],[.79,-1.61,18],[-.87,-1.63,18],[.70,-1.64,16],[-.56,-1.65,17],[.04,-1.65,18],[-.19,-1.68,16],[-.15,-1.66,18],[.40,-1.67,18],[-.76,-1.68,18],[-.66,-1.68,18],[-.81,-1.71,17],[.60,-1.68,17],[.70,-1.69,17],[.67,-1.71,18],[-.05,-1.71,18],[.55,-1.72,17],[.25,-1.73,17],[.27,-1.75,18],[-.25,-1.75,18],[.01,-1.79,17],[.07,-1.78,18],[.38,-1.79,18],[.46,-1.80,17],[.41,-1.81,17],[.74,-1.78,17],[.86,-1.80,18],[-.62,-1.81,18],[-.53,-1.80,18],[-.41,-1.81,18],[-.47,-1.82,18],[.73,-1.81,17],[.73,-1.83,18],[.70,-1.85,18],[.25,-1.83,18],[.28,-1.86,17],[.16,-1.87,17],[.19,-1.88,18],[-.49,-1.87,18],[-.88,-1.85,17],[.54,-1.89,18],[1.07,-1.86,18],[.99,-1.89,18],[.12,-1.89,18],[-1.08,-1.90,16],[-1.09,-1.89,17],[-.94,-1.88,17],[-.92,-1.90,18],[-.34,-1.91,17],[-.27,-1.93,18],[-.26,-1.94,18],[.11,-1.93,18],[.46,-1.92,18],[-1.02,-1.94,18],[-.81,-1.96,17],[-.74,-1.96,18],[-.78,-1.99,18],[-1.14,-1.97,18],[-.44,-1.97,18],[.80,-1.98,18],[.88,-1.98,18],[.93,-2.00,17],[.97,-1.99,18],[.93,-2.03,18],[.90,-2.04,18],[1.12,-1.97,18],[1.11,-2.02,16],[.14,-2.00,18],[-.82,-2.03,18],[-.62,-2.03,18],[-.25,-2.02,18],[.45,-2.03,17],[.47,-2.06,18],[-.95,-2.05,18],[-.27,-2.05,17],[-.14,-2.07,18],[.09,-2.07,18],[-.26,-2.08,18],[-.24,-2.08,18],[-.20,-2.09,18],[-.19,-2.10,18],[-1.15,-2.09,18],[-.48,-2.10,17],[-.43,-2.09,18],[.57,-2.10,18],[-1.09,-2.12,18],[-1.15,-2.11,18],[-.92,-2.15,18],[1.13,-2.13,18],[.28,-2.15,18],[-1.13,-2.15,18],[-1.15,-2.16,18],[.57,-2.16,18],[-.95,-2.20,18],[-.84,-2.20,18],[.70,-2.21,18],[-.46,-2.21,18],[-.50,-2.23,18],[-.43,-2.23,18],[.06,-2.19,16],[.06,-2.18,17],[.03,-2.20,17],[.05,-2.22,18],[-.82,-2.24,16],[1.03,-2.23,17],[.04,-2.27,17],[-1.06,-2.26,18],[.40,-2.26,18],[.55,-2.28,18],[1.15,-2.28,18],[-.81,-2.31,17],[-.74,-2.28,18],[-.75,-2.31,17],[.75,-2.32,18],[.72,-2.33,18],[1.03,-2.30,18],[1.19,-2.33,18],[-.22,-2.32,18],[.04,-2.33,18],[.08,-2.33,18],[-.53,-2.37,14],[-.60,-2.37,18],[-.33,-2.34,18],[-.15,-2.35,15],[.12,-2.39,16],[.23,-2.36,17],[-.71,-2.36,18],[-.01,-2.37,18],[-.03,-2.40,18],[-1.05,-2.36,18],[-.99,-2.39,18],[-.96,-2.39,18],[-.87,-2.40,17],[-.77,-2.40,18],[.62,-2.37,18],[-.73,-2.43,18],[.54,-2.44,18],[-.41,-2.42,18],[-.40,-2.43,18],[-.29,-2.44,18],[.06,-2.46,17],[.18,-2.46,18],[.24,-2.46,18],[.27,-2.47,18],[1.10,-2.49,16],[-.34,-2.49,18],[-.23,-2.50,18],[-.97,-2.51,18],[-.68,-2.52,18],[.78,-2.51,18],[-.27,-2.56,18],[-.36,-2.58,17],[-.32,-2.59,18],[-.14,-2.60,16],[-.12,-2.61,18],[-1.01,-2.59,18],[-.80,-2.59,18],[.92,-2.58,18],[-.87,-2.60,18],[-.57,-2.62,18],[-.56,-2.64,18],[-.38,-2.60,18],[-.43,-2.61,18],[-.22,-2.60,18],[-.02,-2.60,18],[.09,-2.62,18],[-.59,-2.66,18],[-.52,-2.64,18],[-.19,-2.65,18],[.75,-2.63,18],[.46,-2.65,18],[.56,-2.68,17],[.38,-2.68,18],[.84,-2.68,18],[-.60,-2.72,18],[-.15,-2.71,18],[-.93,-2.73,18],[.05,-2.75,18],[-.12,-2.76,18],[.98,-2.77,18],[-.30,-2.78,16],[-.28,-2.81,18],[-1.01,-2.79,18],[-.82,-2.78,18],[-.37,-2.79,18],[-.08,-2.80,18],[.67,-2.79,18],[-1.13,-2.80,18],[-.01,-2.82,18],[-.03,-2.83,18],[-.56,-2.84,18],[-.50,-2.85,16],[.51,-2.83,18],[.86,-2.82,18],[.98,-2.83,18],[1.02,-2.83,18],[-.85,-2.85,18],[-.81,-2.85,18],[.07,-2.87,18],[.33,-2.85,18],[1.16,-2.86,18],[-.06,-2.88,18],[-.03,-2.89,18],[.67,-2.88,18],[-.31,-2.89,18],[.83,-2.89,18],[1.13,-2.90,18],[1.04,-2.92,18],[1.09,-2.92,18],[-.75,-2.92,18],[-.71,-2.94,18],[.71,-2.92,18],[.75,-2.93,17],[.71,-2.94,18],[-1.00,-2.94,18],[-.22,-2.94,18],[.24,-2.94,17],[.07,-2.95,18],[-.13,-2.96,18],[.49,-2.97,18],[.01,-2.97,18],[-.90,-2.98,18],[-.83,-2.98,18],[-.83,-2.99,18],[-.71,-2.99,18],[-.76,-3.00,18],[-.18,-3.00,18],[-.12,-3.01,18],[.30,-3.00,18],[.67,-2.98,18],[1.01,-3.00,18],[.49,-3.00,17],[.55,-3.01,17],[.65,-3.02,18],[.69,-3.01,18],[-1.14,-3.03,17],[-1.08,-3.04,17],[-.61,-3.03,17],[1.10,-3.03,18],[1.16,-3.04,18],[-.71,-3.06,18],[-.71,-3.08,17],[-.23,-3.05,16],[-.30,-3.07,18],[.71,-3.09,18],[-.57,-3.10,18],[1.07,-3.10,17],[-.80,-3.13,18],[-.65,-3.11,18],[.05,-3.12,18],[.03,-3.15,17],[-.62,-3.14,17],[-.69,-3.15,17],[-.68,-3.15,17],[1.04,-3.16,18],[.09,-3.16,18],[.10,-3.18,17],[.12,-3.17,18],[-1.14,-3.17,18],[-1.03,-3.18,18],[.94,-3.22,17],[-.68,-3.20,18],[-.72,-3.22,18],[-.97,-3.23,18],[-.80,-3.24,18],[-.77,-3.23,18],[-.78,-3.24,17],[-.78,-3.26,18],[-.07,-3.19,18],[.81,-3.21,18],
];
const galaxiesSE = [
[1.29,-1.11,18],[1.86,-1.17,16],[1.81,-1.23,17],[2.19,-1.16,18],[2.54,-1.24,18],[2.58,-1.27,17],[2.73,-1.26,18],[2.85,-1.24,18],[2.48,-1.32,18],[2.71,-1.35,18],[2.60,-1.38,18],[1.98,-1.31,18],[1.44,-1.37,18],[1.99,-1.42,18],[1.51,-1.43,17],[1.51,-1.49,18],[2.45,-1.55,18],[2.36,-1.57,18],[2.28,-1.59,18],[2.44,-1.63,18],[2.74,-1.60,18],[1.76,-1.64,18],[1.75,-1.67,18],[1.33,-1.64,18],[1.92,-1.66,18],[2.06,-1.65,18],[2.61,-1.68,18],[2.83,-1.68,18],[1.37,-1.70,16],[1.38,-1.72,18],[1.52,-1.73,18],[1.71,-1.73,18],[1.33,-1.76,17],[1.21,-1.80,17],[2.02,-1.78,16],[1.81,-1.84,18],[1.87,-1.83,18],[1.97,-1.85,18],[1.32,-1.88,16],[1.46,-1.88,18],[2.12,-1.89,18],[2.64,-1.87,18],[1.97,-1.91,18],[1.78,-1.94,17],[1.84,-1.95,18],[1.86,-1.98,16],[1.90,-1.98,18],[1.87,-2.01,18],[2.56,-1.98,18],[2.49,-2.05,18],[2.46,-2.15,18],[1.83,-2.20,18],[1.69,-2.24,18],[2.04,-2.33,17],[1.41,-2.35,18],[1.20,-2.32,18],[1.26,-2.38,17],[1.24,-2.41,18],[1.37,-2.43,18],[1.78,-2.39,18],[1.28,-2.48,18],[1.71,-2.48,17],[1.89,-2.49,18],[1.50,-2.50,17],[1.35,-2.53,18],[1.40,-2.54,17],[1.24,-2.77,18],[1.23,-2.97,18],
];

// Plot scale: the chart's outer ring, 4 degrees from the pole, has this radius
const CX = 1456, CY = 1436, R = 1260;
const PX_PER_DEG = R / 4;
const FIELD_DIAMETER_DEG = 1;
const FWHM_RING_RADIUS_DEG = 1.6;
const HOUR_LABEL_OFFSET = 127;
const SYMBOL_BY_MAG: Record<number, number> = { 18: 15.5, 17: 20, 16: 26, 15: 35, 14: 44 };
const FONT = '"DejaVu Sans"';
const FS = 41.5;

export default function App() {
  const ref = useRef<HTMLDivElement>(null);
  useEffect(() => {
    if (!ref.current) return;
    const chart = echarts.init(ref.current, undefined, { renderer: "svg" });
    const galaxies = [...galaxiesNW, ...galaxiesN, ...galaxiesNE, ...galaxiesW, ...galaxiesCentre, ...galaxiesE, ...galaxiesSW, ...galaxiesS, ...galaxiesSE].sort((a, b) => a[2] - b[2]);
    const fields = [...fieldsOuter, ...fieldsMiddle, ...fieldsInner];
    const legendX = 3060, legendYs = [167, 228, 289], legendTextYs = [166, 226, 287];
    const graphic: any[] = [
      { type: "circle", shape: { cx: 2589, cy: 300, r: PX_PER_DEG * FIELD_DIAMETER_DEG / 2 }, style: { fill: "none", stroke: "#008000", lineWidth: 3.5 }, z: 20 },
      { type: "text", x: 2775, y: 299, style: { text: "1°", font: `${FS}px ${FONT}`, fill: "#008000", align: "left", verticalAlign: "middle" }, z: 20 },
      { type: "rect", shape: { x: 3001, y: 70, width: 432, height: 316, r: 8 }, style: { fill: "rgba(255,255,255,0.8)", stroke: "#d3d3d3", lineWidth: 3.5 }, z: 20 },
      { type: "text", x: 3216, y: 106, style: { text: "Galaxy Magnitudes", font: `${FS}px ${FONT}`, fill: "#000", align: "center", verticalAlign: "middle" }, z: 21 },
      ...legendEntries.map((t, i) => ({ type: "text", x: 3135, y: legendTextYs[i], style: { text: t, font: `${FS}px ${FONT}`, fill: "#000", align: "left", verticalAlign: "middle" }, z: 21 })),
      ...[18, 17, 16].map((m, i) => ({ type: "circle", shape: { cx: legendX, cy: legendYs[i], r: SYMBOL_BY_MAG[m] / 2 }, style: { fill: "#ffff00", stroke: "#000", lineWidth: 2 }, z: 21 })),
      { type: "rect", shape: { x: 3018, y: 330, width: 87, height: 32 }, style: { fill: "none", stroke: "#0000ff", lineWidth: 7.5, lineDash: [28, 12] }, z: 21 },
      { type: "text", x: 3135, y: 347, style: { text: "FWHM = 2.4°", font: `${FS}px ${FONT}`, fill: "#000", align: "left", verticalAlign: "middle" }, z: 21 },
    ];
    chart.setOption({
      animation: false,
      backgroundColor: "#fff",
      grid: { left: CX - R, top: CY - R, width: 2 * R, height: 2 * R, show: false },
      xAxis: { type: "value", min: -4, max: 4, show: false },
      yAxis: { type: "value", min: -4, max: 4, show: false },
      polar: { center: [CX, CY], radius: R },
      radiusAxis: {
        type: "value", min: 86, max: 90, interval: 1, inverse: true, z: 0,
        axisLine: { show: false }, axisTick: { show: false }, axisLabel: { show: false },
        splitLine: { show: true, lineStyle: { color: "#d3d3d3", width: 4.2 } },
      },
      angleAxis: {
        type: "value", min: 0, max: 24, interval: 1, startAngle: 0, clockwise: false, z: 5,
        axisLine: { show: true, lineStyle: { color: "#d3d3d3", width: 4.2 } },
        axisTick: { show: false }, axisLabel: { show: false },
        splitLine: { show: true, lineStyle: { color: "#d3d3d3", width: 6.5 } },
      },
      graphic,
      series: [
        {
          name: "Fields", type: "scatter", coordinateSystem: "cartesian2d", z: 1, silent: true, clip: false,
          data: fields, symbol: "circle", symbolSize: PX_PER_DEG * FIELD_DIAMETER_DEG,
          itemStyle: { color: "transparent", borderColor: "#ff0000", borderWidth: 2.4, opacity: 1 },
        },
        {
          name: "Galaxies", type: "scatter", coordinateSystem: "cartesian2d", z: 2, silent: true, progressive: 0, clip: false,
          data: galaxies, symbol: "circle", symbolSize: (v: number[]) => SYMBOL_BY_MAG[v[2]],
          itemStyle: { color: "#ffff00", borderColor: "#000", borderWidth: 2.2, opacity: 1 },
        },
        {
          name: "FWHM = 2.4°", type: "scatter", coordinateSystem: "polar", z: 6, silent: true,
          data: [[90, 0]], symbol: "circle", symbolSize: 2 * FWHM_RING_RADIUS_DEG * PX_PER_DEG,
          itemStyle: { color: "transparent", borderColor: "#0000ff", borderWidth: 8.5, borderType: [30, 14], opacity: 1 },
        },
        {
          name: "Hours", type: "scatter", coordinateSystem: "polar", z: 7, silent: true,
          data: hourLabels.map((h, i) => {
            const a = (i / 24) * 2 * Math.PI;
            return {
              value: [86, i], name: h,
              label: { position: [HOUR_LABEL_OFFSET * Math.cos(a), -HOUR_LABEL_OFFSET * Math.sin(a)] },
            };
          }),
          symbol: "circle", symbolSize: 1, itemStyle: { color: "transparent", opacity: 1 },
          label: { show: true, formatter: "{b}", color: "#a9a9a9", fontSize: FS, fontFamily: FONT, align: "center", verticalAlign: "middle" },
        },
        {
          name: "Declination", type: "scatter", coordinateSystem: "polar", z: 7, silent: true,
          data: radiusLabels.map((d) => ({ value: [d, 0], name: d.toFixed(1) + "°" })),
          symbol: "circle", symbolSize: 1, itemStyle: { color: "transparent", opacity: 1 },
          label: { show: true, position: [9, 5], formatter: "{b}", color: "#808080", fontSize: FS, fontFamily: FONT, align: "left", verticalAlign: "bottom" },
        },
      ],
    });
    return () => chart.dispose();
  }, []);
  return <div ref={ref} style={{ position: "absolute", left: 0, top: 0, width: 3463, height: 2872 }} />;
}
